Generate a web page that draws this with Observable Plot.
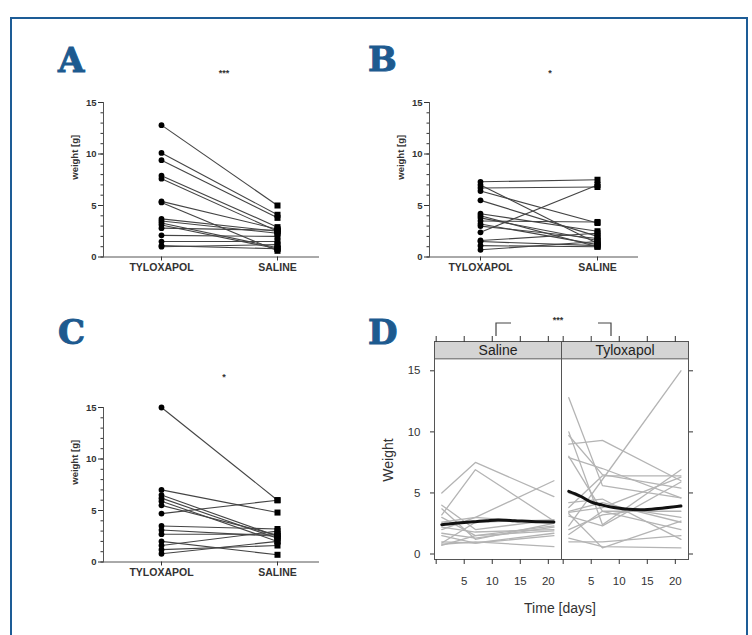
<!DOCTYPE html>
<html><head><meta charset="utf-8">
<script src="https://cdn.jsdelivr.net/npm/d3@7"></script>
<script src="https://cdn.jsdelivr.net/npm/@observablehq/plot@0.6"></script>
<style>
body{margin:0;background:#fff;}
#root{position:relative;width:752px;height:635px;overflow:hidden;background:#fff;font-family:"Liberation Sans",Arial,sans-serif;}
#root svg{position:absolute;}
.border{position:absolute;left:10px;top:17px;width:738px;height:640px;border:2px solid #1d5c96;box-sizing:border-box;}
.letter{position:absolute;font-family:"DejaVu Serif",serif;font-weight:900;font-size:34px;color:#1d5a8f;line-height:1;-webkit-text-stroke:1px #1d5a8f;}
.star{position:absolute;font-size:9px;font-weight:bold;color:#333;transform:translate(-50%,-50%);}
.lab{position:absolute;font-size:14px;color:#333;white-space:nowrap;}
</style></head><body><div id="root"><div class="border"></div></div>
<script>
// ---------- data ----------
const cats = ["TYLOXAPOL", "SALINE"];
// Panel A (paired values)
const tyloxA  = [12.8, 10.1, 9.4, 7.9, 7.6, 5.4, 5.3, 3.7, 3.5, 3.3, 3.1, 2.8, 2.1, 1.5, 1.1, 1.0];
const salineA = [5.0, 4.1, 3.8, 2.9, 2.5, 2.7, 0.6, 2.5, 2.3, 0.9, 0.8, 2.6, 2.0, 1.5, 0.8, 1.2];
// Panel B
const tyloxB  = [7.3, 7.0, 6.7, 6.4, 5.5, 4.2, 4.0, 3.8, 3.5, 3.2, 3.0, 2.4, 1.6, 1.5, 1.1, 0.7];
const salineB = [7.5, 1.3, 6.8, 3.3, 2.0, 2.5, 1.0, 1.6, 3.4, 1.2, 1.8, 7.0, 2.3, 1.1, 1.0, 1.5];
// Panel C
const tyloxC  = [15.0, 7.0, 6.5, 6.2, 5.9, 5.5, 4.7, 3.5, 3.1, 2.7, 2.0, 1.6, 1.2, 0.8];
const salineC = [6.0, 4.8, 2.5, 2.3, 2.0, 2.6, 6.0, 3.2, 2.5, 2.7, 0.7, 3.0, 1.6, 2.0];
// Panel D: individual trajectories (days 1, 7, 21)
const days = [1, 7, 21];
const salDay1  = [5.0, 3.2, 2.0, 4.0, 3.7, 3.0, 2.2, 1.7, 1.5, 1.0, 0.8, 0.9, 2.6, 0.7];
const salDay7  = [7.5, 6.9, 3.0, 2.0, 1.2, 1.5, 1.8, 1.3, 0.9, 0.9, 1.0, 2.6, 3.0, 1.5];
const salDay21 = [4.7, 2.7, 6.0, 2.8, 2.5, 2.3, 2.0, 2.2, 1.7, 1.5, 0.6, 2.8, 2.5, 1.9];
const tylDay1  = [12.8, 2.3, 9.0, 10.0, 9.7, 7.9, 3.8, 3.4, 3.1, 1.6, 1.0, 5.0, 3.3, 1.3, 8.0, 4.2, 2.0, 3.5];
const tylDay7  = [5.6, 6.1, 9.3, 2.4, 6.5, 7.0, 6.4, 3.8, 2.3, 3.5, 1.0, 4.0, 0.5, 0.6, 3.5, 4.5, 3.2, 4.2];
const tylDay21 = [4.6, 15.0, 6.0, 6.9, 5.4, 4.6, 6.4, 6.3, 5.9, 3.5, 1.5, 3.0, 2.7, 0.5, 2.0, 1.2, 4.0, 2.6];
// Panel D: smoothed group curves
const smoothDays = [1, 3, 5, 7, 9, 11, 14, 17, 21];
const salSmooth  = [2.4, 2.5, 2.58, 2.65, 2.72, 2.78, 2.73, 2.66, 2.62];
const tylSmooth  = [5.13, 4.75, 4.25, 4.0, 3.8, 3.68, 3.62, 3.72, 3.93];
const groups = ["Saline", "Tyloxapol"];

const root = document.getElementById("root");
function place(el, left, top) { el.style.left = left + "px"; el.style.top = top + "px"; root.appendChild(el); }
function div(cls, text, left, top, extra) {
  const d = document.createElement("div"); d.className = cls; d.textContent = text;
  if (extra) Object.assign(d.style, extra);
  place(d, left, top); return d;
}

// ---------- panels A, B, C ----------
function pairPanel(tyl, sal, left, top, mLeft, mRight, catRange) {
  const data = tyl.map((t, i) => ({t, s: sal[i]}));
  const p = Plot.plot({
    width: 290, height: 200,
    marginLeft: mLeft, marginRight: mRight, marginTop: 17, marginBottom: 28.5,
    x: {type: "point", domain: cats, range: catRange, padding: 0},
    y: {domain: [0, 15]},
    style: "font-family:'Liberation Sans',Arial,sans-serif;font-weight:bold;color:#333;background:transparent;overflow:visible;",
    marks: [
      Plot.frame({anchor: "left", stroke: "#555"}),
      Plot.frame({anchor: "bottom", stroke: "#555"}),
      Plot.axisY({ticks: d3.range(0, 16, 1), tickSize: 2.5, tickFormat: () => "", label: null}),
      Plot.axisY({ticks: [0, 5, 10, 15], tickSize: 5, tickPadding: 2, fontSize: 9.5, label: null}),
      Plot.axisX({tickSize: 4, tickPadding: 3, fontSize: 10.5, label: null}),
      Plot.text(["weight [g]"], {frameAnchor: "left", rotate: -90, dx: -29, fontSize: 9.5, fontWeight: "bold"}),
      Plot.link(data, {x1: () => cats[0], y1: "t", x2: () => cats[1], y2: "s", stroke: "#444", strokeWidth: 1.1}),
      Plot.dot(data, {x: () => cats[0], y: "t", r: 2.9, fill: "#000"}),
      Plot.dot(data, {x: () => cats[1], y: "s", r: 3.4, symbol: "square", fill: "#000"})
    ]
  });
  place(p, left, top);
}
pairPanel(tyloxA, salineA, 40, 85, 63, 12, [121, 237]);
pairPanel(tyloxB, salineB, 365, 85, 64, 18, [115, 232]);
pairPanel(tyloxC, salineC, 40, 390, 63, 12, [121, 237]);

// ---------- panel D ----------
const dData = [];
salDay1.forEach((_, i) => [salDay1[i], salDay7[i], salDay21[i]].forEach((w, j) => dData.push({g: groups[0], id: "s" + i, day: days[j], w})));
tylDay1.forEach((_, i) => [tylDay1[i], tylDay7[i], tylDay21[i]].forEach((w, j) => dData.push({g: groups[1], id: "t" + i, day: days[j], w})));
const smooth = [];
smoothDays.forEach((d, i) => { smooth.push({g: groups[0], day: d, w: salSmooth[i]}); smooth.push({g: groups[1], day: d, w: tylSmooth[i]}); });
const xDomD = [-0.3, 22.35];
const yDomD = [-0.45, 17.4];
const stripLo = 15.98;
const pD = Plot.plot({
  width: 340, height: 330,
  marginLeft: 63, marginRight: 22, marginTop: 41, marginBottom: 71,
  fx: {domain: groups, padding: 0, axis: null},
  x: {domain: xDomD},
  y: {domain: yDomD},
  style: "font-family:'Liberation Sans',Arial,sans-serif;color:#333;background:transparent;overflow:visible;",
  marks: [
    Plot.rect(groups, {fx: d => d, x1: xDomD[0], x2: xDomD[1], y1: stripLo, y2: yDomD[1], fill: "#d4d4d4"}),
    Plot.ruleY(groups, {fx: d => d, y: stripLo, stroke: "#555"}),
    Plot.text(groups, {fx: d => d, x: (xDomD[0] + xDomD[1]) / 2, y: (stripLo + yDomD[1]) / 2, text: d => d, fontSize: 14, fill: "#222"}),
    Plot.line(dData, {fx: "g", x: "day", y: "w", z: "id", stroke: "#b4b4b4", strokeWidth: 1.3}),
    Plot.line(smooth, {fx: "g", x: "day", y: "w", stroke: "#111", strokeWidth: 3, curve: "catmull-rom"}),
    Plot.frame({stroke: "#555"}),
    Plot.axisY({anchor: "left", ticks: [0, 5, 10, 15], tickSize: 4, tickPadding: 10, fontSize: 11.5, label: null}),
    Plot.axisY({anchor: "right", ticks: [0, 5, 10, 15], tickSize: 4, tickFormat: () => "", label: null}),
    Plot.axisX({anchor: "bottom", ticks: [0, 5, 10, 15, 20], tickSize: 5, tickPadding: 12, fontSize: 11.5, tickFormat: d => d === 0 ? "" : d, label: null}),
    Plot.axisX({anchor: "top", ticks: [0, 5, 10, 15, 20], tickSize: 6, tickFormat: () => "", label: null})
  ]
});
place(pD, 370, 300);

// ---------- annotations ----------
div("letter", "A", 58, 43);
div("letter", "B", 368, 42);
div("letter", "C", 58, 315);
div("letter", "D", 368, 315);
div("star", "***", 224, 73);
div("star", "*", 550, 73);
div("star", "*", 224, 377);
div("star", "***", 558, 320);
div("lab", "Time [days]", 560, 608, {transform: "translate(-50%,-50%)"});
div("lab", "Weight", 388, 460, {transform: "translate(-50%,-50%) rotate(-90deg)"});

const ns = "http://www.w3.org/2000/svg";
const ov = document.createElementNS(ns, "svg");
ov.setAttribute("width", 752); ov.setAttribute("height", 635);
ov.style.left = "0px"; ov.style.top = "0px";
["M496,336V323H511", "M598,323H611V336"].forEach(d => {
  const p = document.createElementNS(ns, "path");
  p.setAttribute("d", d); p.setAttribute("fill", "none"); p.setAttribute("stroke", "#444"); p.setAttribute("stroke-width", "1.2");
  ov.appendChild(p);
});
root.appendChild(ov);
</script></body></html>
